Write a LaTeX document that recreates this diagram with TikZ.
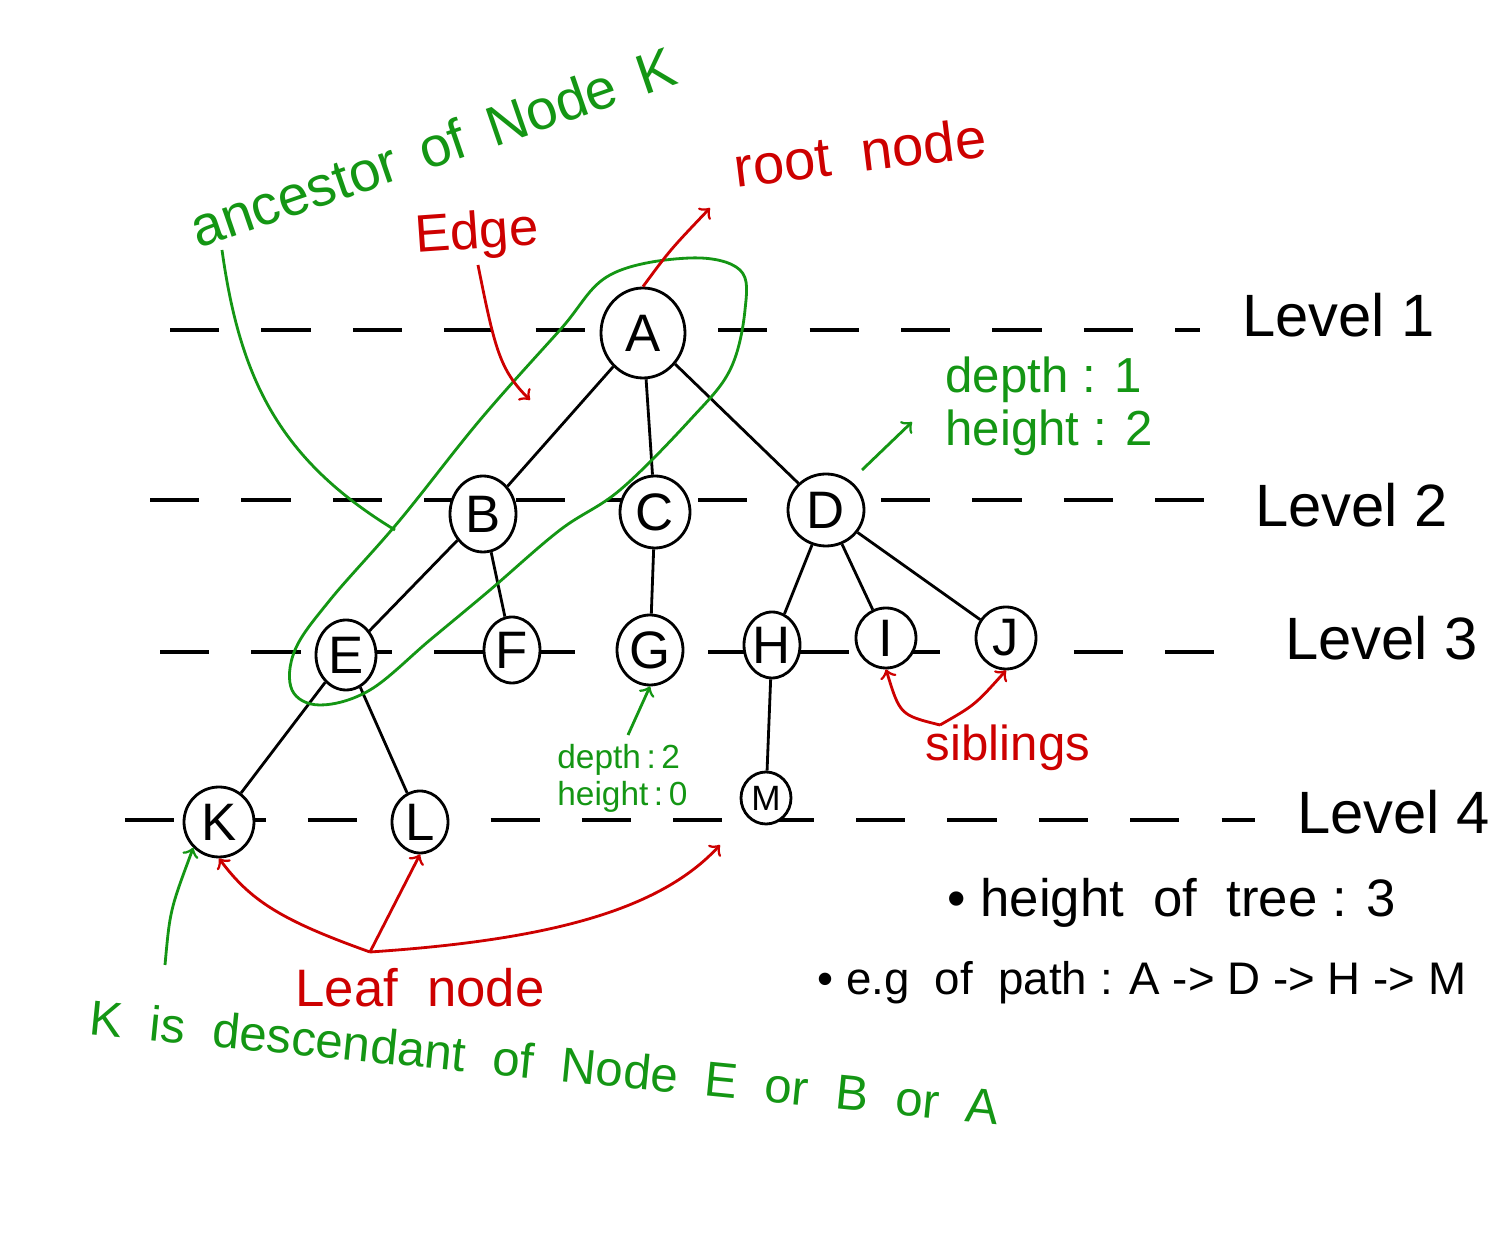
\documentclass[tikz,border=0pt]{standalone}
\usepackage{fontspec}
\setmainfont{Liberation Sans}
\usetikzlibrary{shapes.geometric}
\definecolor{penGreen}{RGB}{20,150,20}
\definecolor{penRed}{RGB}{205,0,0}

\begin{document}
\begin{tikzpicture}[x=1cm,y=-1cm,
	knot/.style={draw,thick,ellipse,fill=white,inner sep=0pt,font=\fontsize{15}{15}\selectfont},
	tedge/.style={black,thick},
	lvl/.style={black,line width=0.9pt,dash pattern=on 14pt off 12pt,shorten >=0.3cm},
	lvltext/.style={anchor=west,font=\fontsize{17}{20}\selectfont},
	note/.style={font=\fontsize{14}{15}\selectfont},
	small/.style={font=\fontsize{9.5}{10.5}\selectfont},
	gline/.style={penGreen,thick},
	rline/.style={penRed,thick}]
	    \fill[white] (0,0) rectangle (15,12.42);
	    \useasboundingbox (0,0) rectangle (15,12.42);
	    % levels
	    \node[lvltext] (lev1) at (12.3,3.15) {Level 1};
	    \node[lvltext] (lev2) at (12.43,5.05) {Level 2};
	    \node[lvltext] (lev3) at (12.73,6.38) {Level 3};
	    \node[lvltext] (lev4) at (12.85,8.12) {Level 4};
	    \coordinate (l1s) at (1.7,3.3);
	    \coordinate (l2s) at (1.5,5.0);
	    \coordinate (l3s) at (1.6,6.52);
	    \coordinate (l4s) at (1.25,8.2);
	    \draw[lvl] (l1s) -- (l1s -| lev1.west);
	    \draw[lvl] (l2s) -- (l2s -| lev2.west);
	    \draw[lvl] (l3s) -- (l3s -| lev3.west);
	    \draw[lvl] (l4s) -- (l4s -| lev4.west);
	    % tree
	    \node[knot,minimum width=0.84cm,minimum height=0.9cm] (A) at (6.43,3.33) {A};
	    \node[knot,minimum width=0.66cm,minimum height=0.76cm] (B) at (4.83,5.14) {B};
	    \node[knot,minimum width=0.7cm,minimum height=0.72cm] (C) at (6.55,5.12) {C};
	    \node[knot,minimum width=0.76cm,minimum height=0.72cm] (D) at (8.26,5.1) {D};
	    \node[knot,minimum width=0.6cm,minimum height=0.7cm] (E) at (3.46,6.55) {E};
	    \node[knot,minimum width=0.56cm,minimum height=0.66cm] (F) at (5.12,6.5) {F};
	    \node[knot,minimum width=0.66cm,minimum height=0.7cm] (G) at (6.5,6.5) {G};
	    \node[knot,minimum width=0.56cm,minimum height=0.66cm] (H) at (7.72,6.45) {H};
	    \node[knot,minimum width=0.6cm,minimum height=0.6cm] (I) at (8.86,6.38) {I};
	    \node[knot,minimum width=0.6cm,minimum height=0.62cm] (J) at (10.06,6.38) {J};
	    \node[knot,minimum width=0.7cm,minimum height=0.7cm] (K) at (2.19,8.22) {K};
	    \node[knot,minimum width=0.56cm,minimum height=0.62cm] (L) at (4.2,8.22) {L};
	    \node[knot,minimum width=0.5cm,minimum height=0.52cm,font=\fontsize{10}{10}\selectfont] (M) at (7.66,7.98) {M};
	    \draw[tedge] (A) -- (B);
	    \draw[tedge] (A) -- (C);
	    \draw[tedge] (A) -- (D);
	    \draw[tedge] (B) -- (E);
	    \draw[tedge] (B) -- (F);
	    \draw[tedge] (C) -- (G);
	    \draw[tedge] (D) -- (H);
	    \draw[tedge] (D) -- (I);
	    \draw[tedge] (D) -- (J);
	    \draw[tedge] (E) -- (K);
	    \draw[tedge] (E) -- (L);
	    \draw[tedge] (H) -- (M);
	    % ancestor
	    \draw[gline] plot[smooth cycle,tension=0.6] coordinates {(6.9,2.58) (7.4,2.7) (7.45,3.1) (7.3,3.7) (6.9,4.2) (6.2,4.9) (5.6,5.3) (4.9,5.9) (4.3,6.4) (3.7,6.9) (3.2,7.05) (2.92,6.9) (2.95,6.5) (3.3,6.0) (4.0,5.2) (4.8,4.2) (5.6,3.3) (6.1,2.75)};
	    \node[note,font=\fontsize{16}{18}\selectfont,text=penGreen,rotate=19] (anc) at (4.33,1.47) {ancestor \,of \,Node \,K};
	    \coordinate (ancEnd) at (3.95,5.3);
	    \draw[gline] (2.22,2.5) .. controls (2.4,3.8) and (2.8,4.6) .. (ancEnd);
	    % labels
	    \node[note,font=\fontsize{16}{18}\selectfont,text=penRed,rotate=7] (root) at (8.6,1.52) {root \ node};
	    \draw[rline,->] (A.north) .. controls (6.7,2.5) .. (7.1,2.08);
	    \node[note,font=\fontsize{15}{18}\selectfont,text=penRed,rotate=4] (edge) at (4.77,2.35) {Edge};
	    \coordinate (edgeTip) at (5.3,4.0);
	    \draw[rline,->] (4.78,2.65) .. controls (4.95,3.5) and (5.0,3.7) .. (edgeTip);
	    \node[note,text=penGreen,align=left,anchor=west] (dD) at (9.33,4.06) {depth : 1\\height : 2};
	    \draw[gline,->] (8.62,4.7) -- (9.12,4.22);
	    \node[small,text=penGreen,align=left,anchor=west] (dG) at (5.45,7.78) {depth\,:\,2\\height\,:\,0};
	    \draw[gline,->] (6.28,7.35) -- (G.south);
	    \node[note,text=penRed] (sib) at (10.08,7.48) {siblings};
	    \coordinate (sibBase) at (9.4,7.25);
	    \draw[rline,->] (sibBase) .. controls (9.0,7.15) .. (I.south);
	    \draw[rline,->] (sibBase) .. controls (9.75,7.05) .. (J.south);
	    \node[note,font=\fontsize{15}{18}\selectfont,text=penRed] (leaf) at (4.2,9.88) {Leaf \ node};
	    \coordinate (leafBase) at (3.7,9.52);
	    \draw[rline,->] (leafBase) .. controls (2.8,9.2) and (2.5,9.0) .. (K.south);
	    \draw[rline,->] (leafBase) -- (L.south);
	    \draw[rline,->] (leafBase) .. controls (5.5,9.4) and (6.6,9.1) .. (7.2,8.45);
	    \node[note,text=penGreen,rotate=-5.7] (desc) at (5.45,10.62) {K \ is \ descendant \ of \ Node \ E \ or \ B \ or \ A};
	    \draw[gline,->] (1.65,9.65) .. controls (1.7,9.1) .. (K.south west);
	    % notes
	    \node[note,font=\fontsize{15}{18}\selectfont,anchor=west] (ht) at (9.35,9.03) {\textbullet\ height \ of \ tree : 3};
	    \node[note,font=\fontsize{13}{16}\selectfont,anchor=west] (path) at (8.05,9.83) {\textbullet\ e.g \ of \ path : A -> D -> H -> M};
	\end{tikzpicture}
\end{document}
